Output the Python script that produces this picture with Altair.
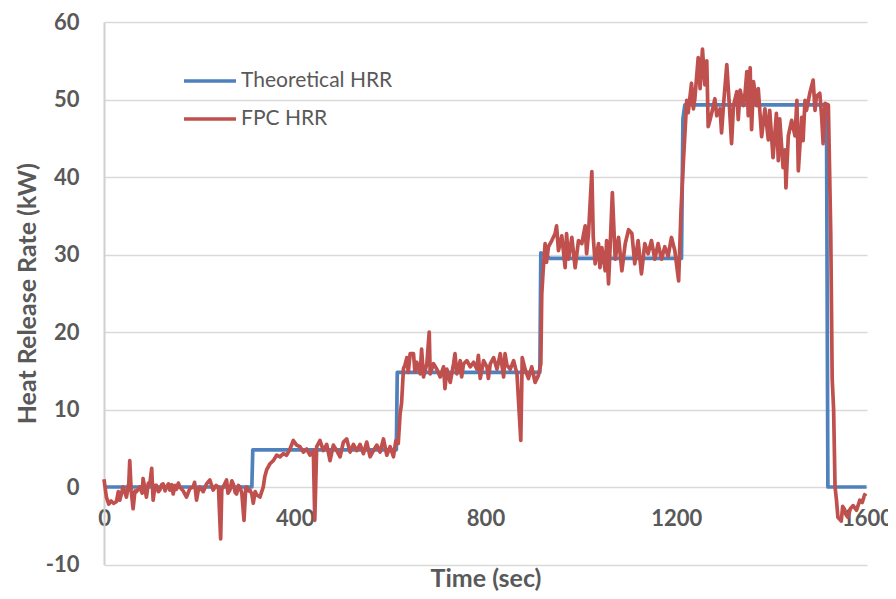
import altair as alt
import pandas as pd

theo_time = [0, 310, 312, 613, 615, 914, 916, 935, 1211, 1214, 1218, 1515, 1518, 1599]
theo_hrr = [0, 0, 4.8, 4.8, 14.8, 14.8, 30.2, 29.5, 29.5, 47.5, 49.3, 49.3, 0, 0]

fpc_time = [
    0, 5, 10, 15, 20, 26, 30, 33, 40, 47, 52, 54, 57, 61, 65, 68, 75, 80, 82, 86,
    89, 93, 96, 100, 103, 107, 110, 114, 117, 121, 124, 128, 131, 135, 138, 142, 145, 149, 152, 156,
    159, 166, 173, 180, 187, 190, 194, 198, 201, 208, 215, 222, 229, 235, 240, 244.6, 247, 250, 257, 260,
    264, 268, 271, 275, 278, 282, 285, 289, 293.6, 297, 299, 303, 306, 310, 313, 317, 320, 327, 334, 337,
    341, 348, 355, 362, 369, 376, 383, 390, 397, 404, 411, 418, 425, 432, 439, 442, 446, 453, 460, 467,
    474, 481, 488, 495, 502, 509, 516, 523, 530, 537, 544, 551, 558, 565, 572, 579, 586, 593, 600, 607,
    612, 617, 621, 624, 628, 631, 635, 638, 642, 649, 652, 656, 663, 666, 670, 677, 682, 684, 691, 698,
    705, 712, 715, 719, 726, 733, 736, 740, 747, 750, 754, 761, 768, 775, 782, 785, 789, 796, 803, 806,
    810, 817, 824, 831, 838, 841, 845, 852, 859, 866, 874, 877, 883, 890, 897, 904, 911, 916, 918, 921,
    925, 928, 932, 939, 946, 949, 953, 960, 967, 970, 974, 981, 988, 995, 1002, 1009, 1012, 1016, 1023, 1026,
    1030, 1037, 1040, 1044, 1051, 1054, 1058, 1061, 1066, 1072, 1079, 1086, 1093, 1100, 1107, 1113, 1120, 1127, 1134, 1141,
    1148, 1155, 1162, 1169, 1176, 1183, 1190, 1197, 1205, 1210, 1215, 1222, 1225, 1232, 1236, 1239, 1246, 1250, 1255, 1260,
    1264, 1267, 1271, 1278, 1281, 1285, 1292, 1295, 1299, 1306, 1311, 1316, 1320, 1327, 1330, 1334, 1341, 1344, 1348, 1351,
    1355, 1358, 1362, 1369, 1372, 1379, 1386, 1393, 1396, 1403, 1410, 1414, 1417, 1424, 1428, 1430, 1435, 1442, 1449, 1453,
    1456, 1463, 1466, 1470, 1473, 1480, 1487, 1491, 1494, 1501, 1505, 1508, 1512, 1519, 1524, 1527, 1530, 1533, 1536, 1539,
    1546, 1549, 1553, 1556, 1560, 1565, 1571, 1578, 1585, 1590, 1595, 1598,
]
fpc_hrr = [
    1.0, -1.3, -2.2, -1.8, -2.1, -1.9, -0.6, -1.7, 0.0, -1.3, 0.5, 3.4, -0.5, -2.8, -0.5, -0.6, 0.0, -0.8, 1.1, -0.3,
    -1.3, 0.5, 0.4, 2.4, -1.7, 0.2, 0.2, -0.6, -0.4, 0.3, 0.4, -0.5, 0.0, 0.4, -0.4, 0.3, -0.9, 0.2, -0.3, 0.5,
    0.0, -0.5, -1.3, -0.2, 0.0, 0.6, -1.7, -0.3, 0.0, -0.6, 0.4, 0.9, -0.4, 0.2, 0.0, -6.7, -0.3, 0.0, 0.9, -0.8,
    -0.4, 0.8, 0.4, -0.7, -0.9, 0.2, 0.0, -0.8, -4.3, -0.3, 0.0, -0.5, -0.4, -0.9, -2.1, -0.6, -1.0, -1.3, 0.0, 1.3,
    2.2, 3.0, 3.4, 4.1, 3.9, 4.3, 4.1, 4.9, 6.0, 5.4, 5.2, 4.5, 4.9, 4.1, 4.7, -4.3, 5.2, 6.0, 4.7, 5.5,
    3.4, 5.4, 4.7, 3.9, 5.8, 6.2, 4.5, 5.5, 4.7, 5.5, 4.3, 5.8, 3.9, 4.7, 5.4, 4.5, 6.2, 4.1, 5.2, 3.9,
    6.0, 5.6, 9.5, 10.8, 15.3, 15.7, 16.7, 14.8, 17.2, 17.2, 14.9, 16.1, 14.6, 17.8, 14.2, 15.9, 20.0, 14.6, 15.9, 15.2,
    14.2, 15.5, 12.7, 15.2, 13.5, 15.9, 17.2, 14.6, 16.3, 14.2, 15.9, 16.3, 15.5, 16.1, 15.2, 17.0, 14.0, 16.3, 15.5, 14.0,
    15.9, 16.7, 15.2, 17.2, 14.2, 17.2, 15.7, 15.2, 16.3, 14.6, 6.0, 16.7, 15.2, 14.0, 15.5, 13.5, 14.4, 15.9, 24.9, 28.0,
    31.4, 29.0, 31.0, 31.8, 32.7, 33.7, 30.5, 32.4, 28.3, 32.7, 29.4, 32.2, 28.3, 31.8, 31.4, 33.7, 30.1, 32.7, 40.7, 32.2,
    28.8, 31.4, 28.3, 30.9, 27.9, 31.8, 26.2, 30.5, 38.0, 29.4, 32.2, 27.9, 31.4, 33.2, 32.7, 28.8, 31.8, 27.5, 31.4, 30.1,
    31.8, 29.4, 31.4, 29.4, 31.0, 29.8, 32.2, 30.5, 26.6, 35.7, 42.0, 49.9, 48.3, 52.1, 48.8, 50.1, 55.4, 51.4, 56.5, 51.9,
    55.0, 46.5, 47.4, 49.2, 50.1, 47.9, 48.8, 45.7, 49.2, 54.5, 49.6, 44.3, 49.2, 51.0, 47.4, 51.2, 49.2, 50.6, 53.6, 47.9,
    54.1, 46.1, 52.3, 49.2, 51.4, 45.2, 48.8, 44.8, 48.6, 42.5, 48.2, 42.1, 47.5, 41.2, 43.5, 38.6, 45.3, 47.3, 45.3, 49.9,
    40.8, 47.7, 44.7, 49.9, 48.6, 50.8, 52.5, 48.6, 50.4, 50.8, 47.7, 44.3, 49.5, 49.3, 32.7, 14.0, 10.0, 0.0, -1.7, -3.9,
    -4.4, -2.5, -2.9, -3.6, -3.9, -2.8, -2.4, -3.0, -1.7, -2.0, -1.0, -1.2,
]

series_names = ["Theoretical HRR", "FPC HRR"]
series_colors = ["#4F81BD", "#C0504D"]
x_ticks = [0, 400, 800, 1200, 1600]
y_ticks = [-10, 0, 10, 20, 30, 40, 50, 60]

theo_df = pd.DataFrame({"t": theo_time, "v": theo_hrr, "s": series_names[0]})
fpc_df = pd.DataFrame({"t": fpc_time, "v": fpc_hrr, "s": series_names[1]})

FONT = "Lato"
GRAY = "#595959"

x_enc = alt.X(
    "t:Q",
    scale=alt.Scale(domain=[0, 1600], nice=False, zero=False),
    axis=alt.Axis(
        title="Time (sec)", values=x_ticks, labelExpr="'' + datum.value", grid=False,
        ticks=False, tickSize=0, domain=False, offset=-77.8, labelPadding=22, titlePadding=37,
        labelFont=FONT, labelFontSize=22, labelFontWeight="bold", labelColor=GRAY,
        titleFont=FONT, titleFontSize=25, titleFontWeight="bold", titleColor=GRAY,
        labelFlush=False, labelOverlap=False,
    ),
)
y_enc = alt.Y(
    "v:Q",
    scale=alt.Scale(domain=[-10, 60], nice=False, zero=False),
    axis=alt.Axis(
        title="Heat Release Rate (kW)", values=y_ticks, labelExpr="'' + datum.value",
        grid=True, gridColor="#D9D9D9", gridWidth=1.5, ticks=False, tickSize=0,
        domain=True, domainColor="#D0D0D0", domainWidth=2, labelPadding=25, titlePadding=5,
        labelFont=FONT, labelFontSize=22, labelFontWeight="bold", labelColor=GRAY,
        titleFont=FONT, titleFontSize=25, titleFontWeight="bold", titleColor=GRAY,
    ),
)
color_enc = alt.Color(
    "s:N",
    scale=alt.Scale(domain=series_names, range=series_colors),
    legend=alt.Legend(
        title=None, orient="none", legendX=78, legendY=31, symbolType="stroke",
        symbolSize=2704, symbolStrokeWidth=3.5, labelFont=FONT, labelFontSize=21,
        labelColor=GRAY, labelOffset=3, rowPadding=-12,
    ),
)

blue = alt.Chart(theo_df).mark_line(strokeWidth=3.7, strokeJoin="round").encode(
    x=x_enc, y=y_enc, color=color_enc
)
red = alt.Chart(fpc_df).mark_line(strokeWidth=3.7, strokeJoin="round").encode(
    x=x_enc, y=y_enc, color=color_enc
)

chart = (
    alt.layer(blue, red)
    .properties(
        width=763, height=542.5,
        autosize=alt.AutoSizeParams(type="none"),
        padding={"left": 96, "top": 14, "right": 21, "bottom": 27},
        background="white",
    )
    .configure_view(stroke=None)
)

chart.save("out.html", embed_options={"renderer": "svg", "actions": False})
